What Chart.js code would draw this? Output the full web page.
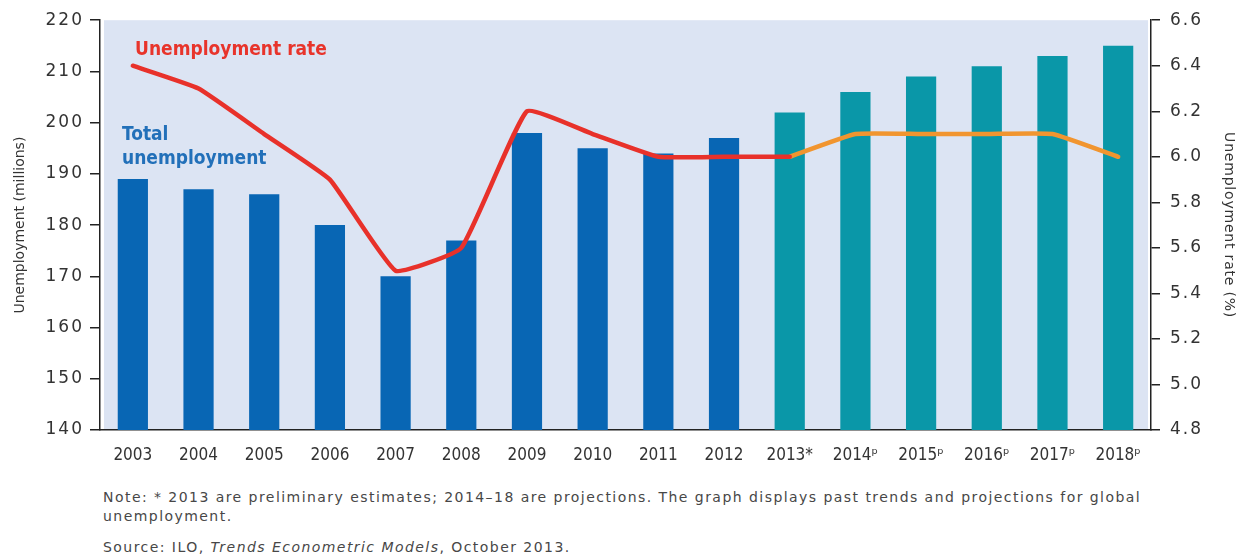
<!DOCTYPE html>
<html>
<head>
<meta charset="utf-8">
<script src="https://cdn.jsdelivr.net/npm/chart.js@4.4.1/dist/chart.umd.min.js"></script>
<style>
  html, body { margin: 0; padding: 0; background: #ffffff; }
  #wrap { position: relative; width: 1246px; height: 556px; overflow: hidden; }
  #box { position: absolute; left: 0; top: 0; width: 1246px; height: 480px; }
  .note { position: absolute; left: 103px; font-family: "DejaVu Sans", sans-serif; font-size: 14px; color: #474747; white-space: nowrap; letter-spacing: 1.45px; }
</style>
</head>
<body>
<div id="wrap">
  <div id="box"><canvas id="c" width="1246" height="480"></canvas></div>
  <div class="note" style="top:489px;">Note: * 2013 are preliminary estimates; 2014–18 are projections. The graph displays past trends and projections for global</div>
  <div class="note" style="top:508px;">unemployment.</div>
  <div class="note" style="top:539px;">Source: ILO, <i>Trends Econometric Models</i>, October 2013.</div>
</div>
<script>
// Years shown on the category axis (2013 preliminary, 2014-18 projected)
const years = ['2003','2004','2005','2006','2007','2008','2009','2010','2011','2012','2013*','2014ᵖ','2015ᵖ','2016ᵖ','2017ᵖ','2018ᵖ'];
// Total global unemployment, millions
const totalUnemployment = [189, 187, 186, 180, 170, 177, 198, 195, 194, 197, 202, 206, 209, 211, 213, 215];
// Unemployment rate (%), observed 2003-2013
const rateObserved = [6.4, 6.3, 6.1, 5.9, 5.5, 5.6, 6.2, 6.1, 6.0, 6.0, 6.0, null, null, null, null, null];
// Unemployment rate (%), projected 2013-2018
const rateProjected = [null, null, null, null, null, null, null, null, null, null, 6.0, 6.1, 6.1, 6.1, 6.1, 6.0];
// Left and right axis ranges
const leftAxis = { min: 140, max: 220, step: 10 };
const rightAxis = { min: 4.8, max: 6.6, step: 0.2 };
// Number of observed years before the projection period
const observedCount = 10;

const barColors = totalUnemployment.map((v, i) => i < observedCount ? '#0866b4' : '#0a97a8');

// Draws a scale's tick labels / title with extra letter spacing
function spaced(scale, labelSpacing, titleSpacing) {
  if (scale._spacedWrapped) return;
  const drawLabels = scale.drawLabels.bind(scale);
  const drawTitle = scale.drawTitle.bind(scale);
  scale.drawLabels = function (area) {
    this.ctx.save(); this.ctx.letterSpacing = labelSpacing; drawLabels(area); this.ctx.restore();
  };
  scale.drawTitle = function () {
    this.ctx.save(); this.ctx.letterSpacing = titleSpacing; drawTitle(); this.ctx.restore();
  };
  scale._spacedWrapped = true;
}

const panelFill = {
  id: 'panelFill',
  beforeDraw(chart) {
    const { ctx, chartArea: a } = chart;
    ctx.save();
    ctx.fillStyle = '#dce4f3';
    ctx.fillRect(a.left + 4, a.top, a.right - a.left - 7, a.bottom - a.top);
    ctx.restore();
  }
};

const seriesLabels = {
  id: 'seriesLabels',
  afterDatasetsDraw(chart) {
    const { ctx } = chart;
    ctx.save();
    ctx.textBaseline = 'alphabetic';
    ctx.textAlign = 'left';
    ctx.font = 'bold 19px "DejaVu Sans Condensed", "DejaVu Sans", sans-serif';
    ctx.fillStyle = '#e8342b';
    ctx.fillText('Unemployment rate', 135, 55);
    ctx.fillStyle = '#2270b9';
    ctx.fillText('Total', 122, 140);
    ctx.fillText('unemployment', 122, 164);
    ctx.restore();
  }
};

const tickFont = { family: '"DejaVu Sans", sans-serif', size: 17 };
const titleFont = { family: '"DejaVu Sans", sans-serif', size: 14 };

new Chart(document.getElementById('c'), {
  data: {
    labels: years,
    datasets: [
      {
        type: 'line', label: 'Unemployment rate', data: rateObserved, yAxisID: 'y1',
        borderColor: '#e8312a', borderWidth: 4.5, pointRadius: 0, tension: 0.12,
        borderJoinStyle: 'round', borderCapStyle: 'round', spanGaps: false, order: 0
      },
      {
        type: 'line', label: 'Unemployment rate (projected)', data: rateProjected, yAxisID: 'y1',
        borderColor: '#f1952f', borderWidth: 4.5, pointRadius: 0, tension: 0.12,
        borderJoinStyle: 'round', borderCapStyle: 'round', spanGaps: false, order: 1
      },
      {
        type: 'bar', label: 'Total unemployment', data: totalUnemployment, yAxisID: 'y',
        backgroundColor: barColors, borderWidth: 0,
        categoryPercentage: 1.0, barPercentage: 0.46, order: 2
      }
    ]
  },
  options: {
    responsive: false,
    animation: false,
    layout: { padding: { top: 20, left: 0, right: 0, bottom: 0 } },
    plugins: { legend: { display: false }, tooltip: { enabled: false } },
    scales: {
      x: {
        grid: { display: false },
        border: { display: true, color: '#222', width: 1.5 },
        ticks: { color: '#333', padding: 7, maxRotation: 0, autoSkip: false,
                 font: { family: '"DejaVu Sans Condensed", "DejaVu Sans", sans-serif', size: 17 } },
        afterFit(s) { s.height = 50; }
      },
      y: {
        position: 'left',
        min: leftAxis.min, max: leftAxis.max,
        grid: { drawOnChartArea: false, drawTicks: true, tickLength: 10, color: '#222', lineWidth: 1.5 },
        border: { display: true, color: '#222', width: 1.5 },
        ticks: { stepSize: leftAxis.step, color: '#333', padding: 6, font: tickFont },
        title: { display: true, text: 'Unemployment (millions)', color: '#333',
                 font: titleFont, padding: { top: 12, bottom: 0 } },
        afterFit(s) { s.width = 100; },
        afterUpdate(s) { spaced(s, '2px', '0px'); }
      },
      y1: {
        position: 'right',
        min: rightAxis.min, max: rightAxis.max,
        grid: { drawOnChartArea: false, drawTicks: true, tickLength: 9, color: '#222', lineWidth: 1.5 },
        border: { display: true, color: '#222', width: 1.5 },
        ticks: { stepSize: rightAxis.step, color: '#333', padding: 10, font: tickFont,
                 callback: v => Number(v).toFixed(1) },
        title: { display: true, text: 'Unemployment rate (%)', color: '#333',
                 font: titleFont, padding: { top: 9, bottom: 0 } },
        afterFit(s) { s.width = 95; },
        afterUpdate(s) { spaced(s, '2px', '0.8px'); }
      }
    }
  },
  plugins: [panelFill, seriesLabels]
});
</script>
</body>
</html>
